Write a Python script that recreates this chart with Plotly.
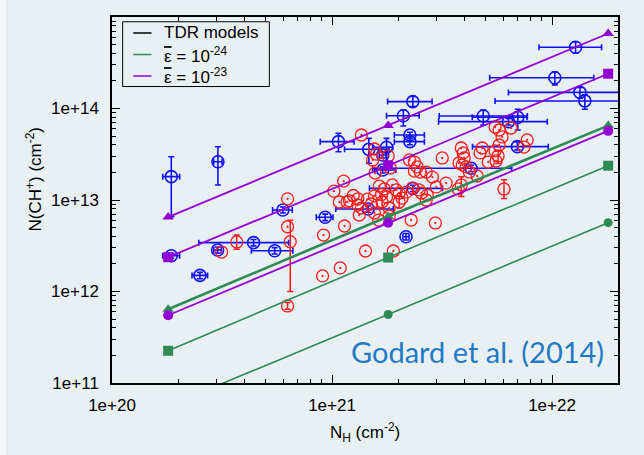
import plotly.graph_objects as go

# ---------------- data ----------------
# TDR model curves (N_H, N(CH+))
model_nh = [1.8e20, 1.8e21, 1.8e22]
green_tri = [6.4e11, 6.6e12, 6.5e13]
green_sq = [2.25e11, 2.35e12, 2.37e13]
green_circ = [5.6e10, 5.6e11, 5.65e12]
purple_tri = [6.5e12, 6.5e13, 6.6e14]
purple_sq = [2.37e12, 2.4e13, 2.4e14]
purple_circ = [5.5e11, 5.65e12, 5.7e13]

# blue observations (with x and y error bars)
blue_nh = [1.86e20, 3.03e20, 1.86e20, 3.02e20, 2.51e20, 4.40e20, 5.49e20, 5.98e20, 9.31e20, 1.46e21,
           2.17e21, 2.33e21, 2.33e21, 2.11e21, 1.07e21, 2.26e21, 2.26e21, 1.47e21, 1.77e21, 1.70e21,
           1.70e21, 1.28e22, 1.03e22, 1.34e22, 1.41e22, 4.87e21, 6.34e21, 6.99e21, 6.96e21, 4.29e21]
blue_nh_lo = [1.70e20, 2.90e20, 1.70e20, 2.90e20, 2.31e20, 2.48e20, 4.30e20, 5.37e20, 8.48e20, 1.04e21,
              2.10e21, 1.48e21, 1.79e21, 1.77e21, 8.84e20, 1.92e21, 1.92e21, 1.14e21, 1.53e21, 1.64e21,
              1.56e21, 8.73e21, 5.21e21, 6.34e21, 5.51e21, 3.07e21, 3.05e21, 4.34e21, 4.35e21, 1.53e21]
blue_nh_hi = [2.03e20, 3.16e20, 2.03e20, 3.14e20, 2.72e20, 6.35e20, 6.64e20, 6.60e20, 1.01e21, 1.90e21,
              2.24e21, 3.18e21, 2.85e21, 2.49e21, 1.26e21, 2.63e21, 2.63e21, 1.82e21, 1.89e21, 1.76e21,
              1.95e21, 1.68e22, 1.55e22, 2.5e22, 2.6e22, 7.73e21, 9.52e21, 7.70e21, 9.62e21, 6.56e21]
blue_nch = [1.80e13, 2.62e13, 2.46e12, 2.84e12, 1.50e12, 3.42e12, 2.79e12, 7.78e12, 6.47e12, 7.97e12,
            3.97e12, 1.34e13, 1.19e14, 8.34e13, 4.34e13, 5.13e13, 4.34e13, 3.58e13, 3.77e13, 3.10e13,
            2.13e13, 4.67e14, 2.17e14, 1.50e14, 1.21e14, 8.28e13, 7.18e13, 8.01e13, 3.83e13, 2.22e13]
blue_nch_lo = [6.57e12, 1.46e13, 2.30e12, 2.62e12, 1.38e12, 3.15e12, 2.57e12, 7.2e12, 5.95e12, 7.35e12,
               3.65e12, 1.24e13, 1.05e14, 6.44e13, 3.37e13, 4.75e13, 4.02e13, 2.52e13, 2.52e13, 2.88e13,
               1.97e13, 4.01e14, 1.81e14, 1.30e14, 9.8e13, 6.6e13, 6.6e13, 5.82e13, 3.53e13, 2.05e13]
blue_nch_hi = [2.97e13, 3.82e13, 2.62e12, 3.06e12, 1.62e12, 3.70e12, 3.02e12, 8.4e12, 7.0e12, 8.6e12,
               4.30e12, 1.45e13, 1.35e14, 9.63e13, 5.36e13, 5.5e13, 4.68e13, 4.72e13, 4.72e13, 3.35e13,
               2.30e13, 5.37e14, 2.52e14, 1.70e14, 1.41e14, 9.63e13, 7.8e13, 9.8e13, 4.3e13, 2.4e13]

# red observations (small error bars)
red_nh = [6.28e20, 6.28e20, 3.15e20, 9.06e20, 9.15e20, 1.09e21, 1.14e21, 1.42e21, 1.90e21, 2.29e21,
          2.95e21, 1.63e21, 1.82e21, 1.82e21, 1.56e21, 1.33e21, 1.36e21, 1.08e21, 1.17e21, 1.31e21,
          1.02e21, 1.13e21, 1.36e21, 1.56e21, 1.59e21, 1.53e21, 1.57e21, 1.64e21, 1.73e21, 1.56e21,
          1.77e21, 1.96e21, 2.02e21, 2.18e21, 2.32e21, 2.55e21, 2.68e21, 1.80e21, 1.84e21, 2.25e21,
          2.37e21, 2.44e21, 2.37e21, 2.52e21, 2.68e21, 2.86e21, 2.98e21, 3.17e21, 3.30e21, 2.49e21,
          3.87e21, 3.95e21, 3.99e21, 3.78e21, 3.91e21, 4.07e21, 4.21e21, 4.57e21, 4.82e21, 4.71e21,
          5.13e21, 5.51e21, 5.75e21, 5.93e21, 5.75e21, 5.51e21, 5.57e21, 6.52e21, 7.46e21, 7.71e21,
          3.75e21, 2.71e21, 1.31e21, 1.51e21, 1.88e21, 1.20e21, 1.45e21, 1.68e21, 2.08e21, 1.25e21]
red_nch = [1.03e13, 5.1e12, 2.70e12, 1.48e12, 4.14e12, 1.81e12, 5.20e12, 2.77e12, 2.77e12, 6.04e12,
           5.61e12, 6.04e12, 6.68e12, 8.18e12, 7.21e12, 6.86e12, 8.18e12, 9.51e12, 9.51e12, 1.03e13,
           1.25e13, 1.61e13, 5.13e13, 3.61e13, 3.18e13, 2.74e13, 1.97e13, 1.42e13, 1.32e13, 1.11e13,
           1.08e13, 1.29e13, 1.19e13, 1.22e13, 1.35e13, 1.19e13, 1.00e13, 3.03e13, 2.24e13, 2.74e13,
           2.60e13, 2.30e13, 2.07e13, 2.02e13, 2.02e13, 1.78e13, 1.39e13, 2.88e13, 1.53e13, 1.29e13,
           3.70e13, 3.27e13, 2.88e13, 2.54e13, 2.42e13, 2.30e13, 2.02e13, 1.83e13, 3.70e13, 3.27e13,
           2.60e13, 6.28e13, 5.82e13, 4.89e13, 3.99e13, 3.44e13, 2.67e13, 6.12e13, 3.79e13, 4.53e13,
           1.32e13, 1.13e13, 8.81e12, 9.04e12, 1.46e13, 9.8e12, 1.02e13, 1.15e13, 1.05e13, 1.12e13]

# red observations with visible error bars
redbar_nh = [6.46e20, 3.69e20, 6.28e20, 5.69e21, 6.05e21, 3.87e21, 2.02e21, 1.69e21]
redbar_nch = [3.50e12, 3.48e12, 6.95e11, 3.03e13, 1.32e13, 1.46e13, 9.51e12, 9.51e12]
redbar_hi = [6.0e12, 4.14e12, 7.6e11, 3.4e13, 1.66e13, 1.8e13, 1.1e13, 1.1e13]
redbar_lo = [1.0e12, 2.89e12, 6.4e11, 2.5e13, 1.04e13, 1.09e13, 8.2e12, 8.2e12]

x_tickvals = [1e20, 1e21, 1e22]
x_ticktext = ["1e+20", "1e+21", "1e+22"]
y_tickvals = [1e11, 1e12, 1e13, 1e14]
y_ticktext = ["1e+11", "1e+12", "1e+13", "1e+14"]

# ---------------- styling ----------------
BG = "#e9f0f4"
GREEN = "#2e8b57"
PURPLE = "#9400d3"
RED = "#ff1a1a"
BLUE = "#1010ff"
FONT = "Liberation Sans"

fig = go.Figure()

# blue data
fig.add_trace(go.Scatter(
    x=blue_nh, y=blue_nch, mode="markers", showlegend=False,
    marker=dict(symbol="circle-open", size=12, color=BLUE, line=dict(width=1.6)),
    error_x=dict(type="data", symmetric=False,
                 array=[h - v for h, v in zip(blue_nh_hi, blue_nh)],
                 arrayminus=[v - l for l, v in zip(blue_nh_lo, blue_nh)],
                 color=BLUE, thickness=1.6, width=3),
    error_y=dict(type="data", symmetric=False,
                 array=[h - v for h, v in zip(blue_nch_hi, blue_nch)],
                 arrayminus=[v - l for l, v in zip(blue_nch_lo, blue_nch)],
                 color=BLUE, thickness=1.6, width=3),
))

# red data
fig.add_trace(go.Scatter(
    x=red_nh, y=red_nch, mode="markers", showlegend=False,
    marker=dict(symbol="circle-open-dot", size=12, color=RED, line=dict(width=1.3)),
))
fig.add_trace(go.Scatter(
    x=redbar_nh, y=redbar_nch, mode="markers", showlegend=False,
    marker=dict(symbol="circle-open", size=12, color=RED, line=dict(width=1.3)),
    error_y=dict(type="data", symmetric=False,
                 array=[h - v for h, v in zip(redbar_hi, redbar_nch)],
                 arrayminus=[v - l for l, v in zip(redbar_lo, redbar_nch)],
                 color=RED, thickness=1.5, width=3),
))

# model curves
models = [
    (green_sq, GREEN, "square", 1.6, 10),
    (green_circ, GREEN, "circle", 1.6, 9),
    (green_tri, GREEN, "triangle-up", 2.6, 10),
    (purple_circ, PURPLE, "circle", 1.8, 10),
    (purple_sq, PURPLE, "square", 1.8, 10),
    (purple_tri, PURPLE, "triangle-up", 1.8, 10),
]
for ys, col, sym, lw, ms in models:
    fig.add_trace(go.Scatter(
        x=model_nh, y=ys, mode="lines+markers", showlegend=False,
        line=dict(color=col, width=lw),
        marker=dict(symbol=sym, size=ms, color=col),
    ))

axis_common = dict(
    type="log", showgrid=False, zeroline=False,
    showline=True, linecolor="black", linewidth=1.5, mirror="allticks",
    ticks="inside", ticklen=8, tickwidth=1.2, tickcolor="black",
    tickfont=dict(family=FONT, size=17, color="black"),
    tickmode="array",
    minor=dict(ticks="inside", ticklen=4, tickwidth=1, tickcolor="black", dtick="D1", showgrid=False),
)

fig.update_xaxes(range=[20, 22.3], tickvals=x_tickvals, ticktext=x_ticktext,
                 ticklabelstandoff=6, **axis_common)
fig.update_yaxes(range=[11, 15], tickvals=y_tickvals, ticktext=y_ticktext,
                 ticklabelstandoff=8, **axis_common)

# slide edge at the far left
shapes = [
    dict(type="rect", xref="paper", yref="paper", x0=-0.2214, x1=-0.2075, y0=-0.2, y1=1.05,
         line=dict(width=0), fillcolor="#f3f7f9", layer="below"),
    dict(type="line", xref="paper", yref="paper", x0=-0.2075, x1=-0.2075, y0=-0.2, y1=1.05,
         line=dict(color="#d3dde3", width=1), layer="below"),
]

# legend (drawn manually)
shapes.append(dict(type="rect", xref="paper", yref="paper", x0=0.021, x1=0.311, y0=0.810, y1=0.987,
                   line=dict(color="black", width=1), fillcolor=BG))
annotations = []
eps_bar = "<span style='text-decoration:overline'>\u03b5</span>"
legend_rows = [("TDR models", "black", 0.9563),
               (eps_bar + " = 10<sup>-24</sup>", GREEN, 0.8975),
               (eps_bar + " = 10<sup>-23</sup>", PURPLE, 0.8388)]
for text, col, yy in legend_rows:
    shapes.append(dict(type="line", xref="paper", yref="paper", x0=0.042, x1=0.078, y0=yy, y1=yy,
                       line=dict(color=col, width=1.5)))
    annotations.append(dict(xref="paper", yref="paper", x=0.098, y=yy, text=text, showarrow=False,
                            xanchor="left", yanchor="middle",
                            font=dict(family=FONT, size=17, color="black")))

annotations += [
    dict(xref="paper", yref="paper", x=0.5, y=-0.135, text="N<sub>H</sub> (cm<sup>-2</sup>)",
         showarrow=False, xanchor="center", yanchor="middle",
         font=dict(family=FONT, size=17, color="black")),
    dict(xref="paper", yref="paper", x=-0.155, y=0.555, text="N(CH<sup>+</sup>) (cm<sup>-2</sup>)",
         showarrow=False, xanchor="center", yanchor="middle", textangle=-90,
         font=dict(family=FONT, size=17, color="black")),
    dict(xref="paper", yref="paper", x=0.723, y=0.085, text="Godard et al. (2014)",
         showarrow=False, xanchor="center", yanchor="middle",
         font=dict(family="Lato", size=29, color="#2279c4")),
]

fig.update_layout(
    width=644, height=455,
    margin=dict(l=112, r=26, t=17, b=72),
    paper_bgcolor=BG, plot_bgcolor=BG,
    showlegend=False,
    font=dict(family=FONT),
    shapes=shapes, annotations=annotations,
)

fig.write_html("out.html")
